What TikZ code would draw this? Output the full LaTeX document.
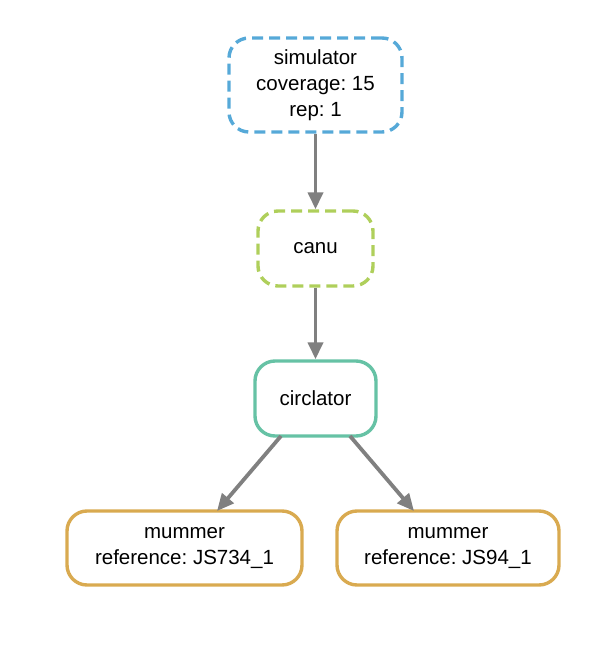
\documentclass[tikz,border=0pt]{standalone}
\usepackage{fontspec}
\setmainfont{Liberation Sans}
\usetikzlibrary{arrows.meta}
\definecolor{cblue}{HTML}{56A9D8}
\definecolor{cgreen}{HTML}{AFCF5B}
\definecolor{cteal}{HTML}{66C2A5}
\definecolor{cgold}{HTML}{D9AA50}
\definecolor{cgray}{HTML}{808080}
\tikzset{
  box/.style={draw, rounded corners=20pt, line width=3.4pt, align=center, inner sep=0pt,
    font=\fontsize{20.5pt}{26pt}\selectfont\frenchspacing},
  dashbox/.style={box, dash pattern=on 11pt off 6pt},
  conn/.style={draw=cgray, line width=3.8pt, -{Triangle[length=17pt,width=15pt]}},
}
\begin{document}
\begin{tikzpicture}[x=1pt,y=-1pt]
\useasboundingbox (0,0) rectangle (614,652);
\node[dashbox, draw=cblue, minimum width=173pt, minimum height=94pt] (sim) at (315.5,85) {simulator\\coverage: 15\\rep: 1};
\node[dashbox, draw=cgreen, minimum width=115pt, minimum height=75pt] (canu) at (315.5,248.5) {canu};
\node[box, draw=cteal, minimum width=121pt, minimum height=75pt] (circ) at (315.5,398.5) {circlator};
\node[box, draw=cgold, minimum width=235pt, minimum height=74pt] (m1) at (184.5,548) {mummer\\reference: JS734\_1};
\node[box, draw=cgold, minimum width=222pt, minimum height=74pt] (m2) at (448,548) {mummer\\reference: JS94\_1};
\draw[conn] (sim.south) -- (canu.north);
\draw[conn] (canu.south) -- (circ.north);
\coordinate (c1) at (281,436);
\coordinate (t1) at (217,511);
\coordinate (c2) at (350,436);
\coordinate (t2) at (414,511);
\draw[conn] (c1) -- (t1);
\draw[conn] (c2) -- (t2);
\end{tikzpicture}
\end{document}
